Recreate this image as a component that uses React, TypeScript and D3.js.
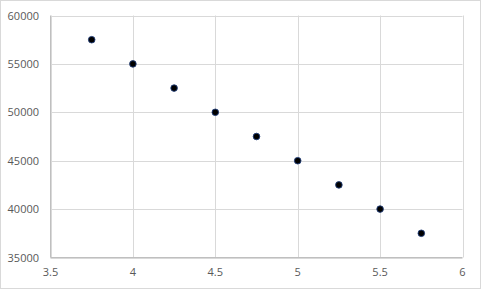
import React from "react";
import * as d3 from "d3";

const xValues = [3.75, 4, 4.25, 4.5, 4.75, 5, 5.25, 5.5, 5.75];
const yValues = [57500, 55000, 52500, 50000, 47500, 45000, 42500, 40000, 37500];
const xTicks = [3.5, 4, 4.5, 5, 5.5, 6];
const yTicks = [35000, 40000, 45000, 50000, 55000, 60000];

const W = 481;
const H = 289;
const M = { left: 50.5, right: 462.5, top: 15.5, bottom: 257.5 };

export default function App() {
  const x = d3.scaleLinear().domain([3.5, 6]).range([M.left, M.right]);
  const y = d3.scaleLinear().domain([35000, 60000]).range([M.bottom, M.top]);
  const font = "'Segoe UI', 'Open Sans', 'Noto Sans', sans-serif";
  return (
    <div style={{ position: "absolute", left: 0, top: 0 }}>
      <svg width={W} height={H} style={{ display: "block" }}>
        <rect x={0.5} y={0.5} width={W - 1} height={H - 1} fill="#fff" stroke="#d9d9d9" />
        {xTicks.map((t) => (
          <line key={"gx" + t} x1={Math.round(x(t)) + 0.5} x2={Math.round(x(t)) + 0.5} y1={M.top} y2={M.bottom} stroke="#d9d9d9" />
        ))}
        {yTicks.map((t) => (
          <line key={"gy" + t} x1={M.left} x2={M.right} y1={Math.round(y(t)) + 0.5} y2={Math.round(y(t)) + 0.5} stroke="#d9d9d9" />
        ))}
        <line x1={M.left} x2={M.left} y1={M.top} y2={M.bottom} stroke="#bfbfbf" />
        <line x1={M.left} x2={M.right} y1={M.bottom} y2={M.bottom} stroke="#bfbfbf" />
        {yTicks.map((t) => (
          <text key={"ty" + t} x={39} y={y(t) + 4} textAnchor="end" fontSize={11} fontFamily={font} fill="#595959">
            {t}
          </text>
        ))}
        {xTicks.map((t) => (
          <text key={"tx" + t} x={x(t)} y={276} textAnchor="middle" fontSize={11} fontFamily={font} fill="#595959">
            {t}
          </text>
        ))}
        {xValues.map((v, i) => (
          <circle key={"p" + i} cx={x(v)} cy={y(yValues[i])} r={3.3} fill="#000" stroke="#1f3c78" strokeWidth={0.9} />
        ))}
      </svg>
    </div>
  );
}
